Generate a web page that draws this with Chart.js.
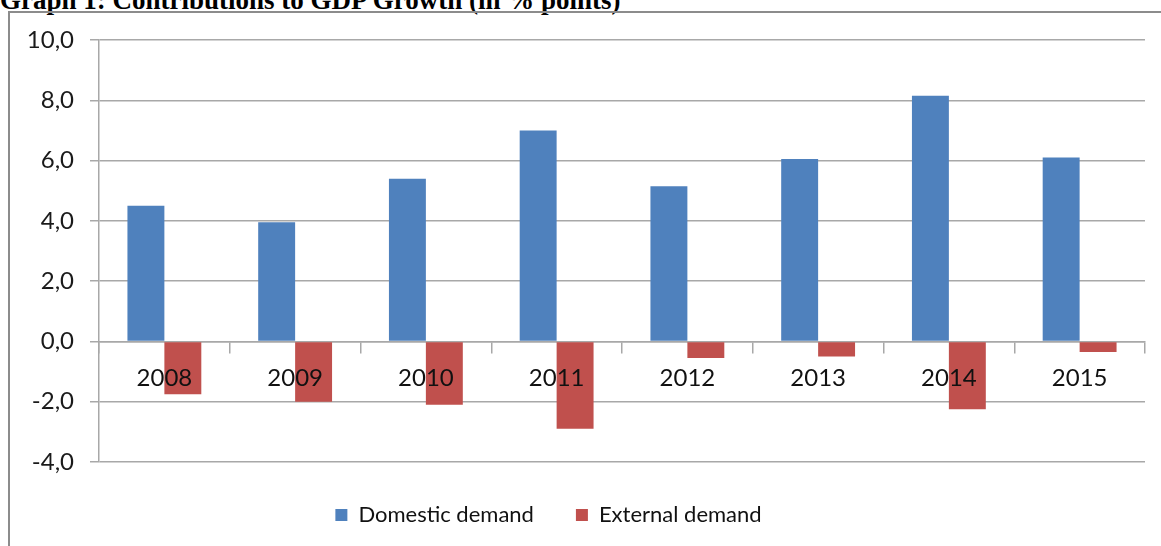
<!DOCTYPE html>
<html>
<head>
<meta charset="utf-8">
<script src="https://cdn.jsdelivr.net/npm/chart.js@4.4.1/dist/chart.umd.min.js"></script>
<style>
  html, body { margin: 0; padding: 0; background: #fff; overflow: hidden; }
  #title {
    position: absolute; left: 0; top: -15px; line-height: 27px;
    font: bold 27px "Liberation Serif", "Times New Roman", serif; color: #000;
    white-space: nowrap;
  }
  #frame {
    position: absolute; left: 8px; top: 11px; width: 1200px; height: 600px;
    border-left: 2px solid #8c8c8c; border-top: 2px solid #8c8c8c;
  }
  #wrap { position: absolute; left: 0; top: 0; width: 1161px; height: 566px; }
</style>
</head>
<body>
<div id="title">Graph 1: Contributions to GDP Growth (in % points)</div>
<div id="frame"></div>
<div id="wrap"><canvas id="chart" width="1161" height="566"></canvas></div>
<script>
// Chart values
var years = ['2008', '2009', '2010', '2011', '2012', '2013', '2014', '2015'];
var domesticDemand = [4.5, 3.95, 5.4, 7.0, 5.15, 6.05, 8.15, 6.1];
var externalDemand = [-1.75, -2.0, -2.1, -2.9, -0.55, -0.5, -2.25, -0.35];
var seriesNames = ['Domestic demand', 'External demand'];
var seriesColors = ['#4f81bd', '#c0504d'];

var gridColor = '#a8a8a8';
var tickFont = { family: 'Lato, "Open Sans", sans-serif', size: 24 };
var legendFont = { family: 'Lato, "Open Sans", sans-serif', size: 22 };

// Formats the y ticks with a decimal comma, like "10,0"
function commaFormat(value) {
    return value.toFixed(1).replace('.', ',');
}

var config = {
    type: 'bar',
    data: {
        labels: years,
        datasets: [
            { label: seriesNames[0], data: domesticDemand, backgroundColor: seriesColors[0] },
            { label: seriesNames[1], data: externalDemand, backgroundColor: seriesColors[1] }
        ]
    },
    options: {
        responsive: false,
        animation: false,
        categoryPercentage: 0.565,
        barPercentage: 1.0,
        // negative left padding so the centred legend sits where the original one does
        layout: { padding: { top: 40, right: 16, bottom: 30, left: -48 } },
        plugins: {
            tooltip: { enabled: false },
            legend: {
                position: 'bottom',
                labels: {
                    boxWidth: 12, boxHeight: 12, padding: 42,
                    color: '#111', font: legendFont
                }
            }
        },
        scales: {
            x: {
                position: { y: 0 },
                grid: { drawOnChartArea: false, drawTicks: true, tickLength: 11, color: gridColor, lineWidth: 1.5 },
                border: { color: gridColor, width: 1.5 },
                ticks: { color: '#111', font: tickFont, padding: 11, maxRotation: 0, z: 1 }
            },
            y: {
                min: -4, max: 10,
                afterFit: (scale) => { scale.width = 147; },
                grid: { color: gridColor, lineWidth: 1.5, tickLength: 9 },
                border: { color: gridColor, width: 1.5 },
                ticks: {
                    stepSize: 2, color: '#1a1a1a', font: tickFont, padding: 16,
                    callback: (value) => commaFormat(value)
                }
            }
        }
    }
};

var chartObj = new Chart(document.getElementById('chart'), config);
</script>
</body>
</html>
